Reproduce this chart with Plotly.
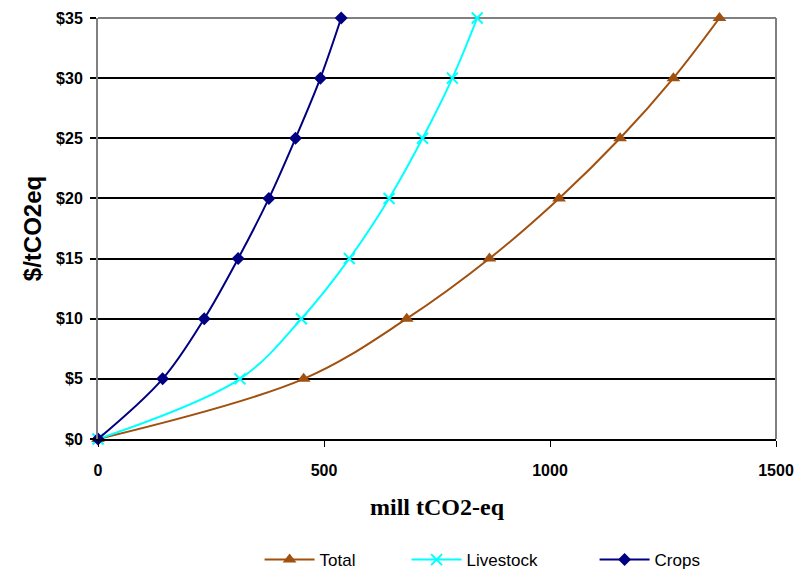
import plotly.graph_objects as go

price = [0, 5, 10, 15, 20, 25, 30, 35]
crops = [0, 143, 235, 310, 378, 437, 492, 538]
livestock = [0, 314, 450, 556, 644, 718, 784, 839]
total = [0, 455, 683, 866, 1020, 1155, 1273, 1375]

x_ticks = [0, 500, 1000, 1500]
y_ticks = [0, 5, 10, 15, 20, 25, 30, 35]
y_labels = ["$0", "$5", "$10", "$15", "$20", "$25", "$30", "$35"]

fig = go.Figure()
fig.add_trace(go.Scatter(x=total, y=price, name="Total", mode="lines+markers",
                         cliponaxis=False, legend="legend",
                         line=dict(color="#A0500F", width=2, shape="spline"),
                         marker=dict(symbol="triangle-up", size=12, color="#A0500F")))
fig.add_trace(go.Scatter(x=livestock, y=price, name="Livestock", mode="lines+markers",
                         cliponaxis=False, legend="legend2",
                         line=dict(color="#00FFFF", width=2, shape="spline"),
                         marker=dict(symbol="x-thin", size=11, color="#00FFFF",
                                     line=dict(color="#00FFFF", width=2))))
fig.add_trace(go.Scatter(x=crops, y=price, name="Crops", mode="lines+markers",
                         cliponaxis=False, legend="legend3",
                         line=dict(color="#000080", width=2, shape="spline"),
                         marker=dict(symbol="diamond", size=10, color="#000080")))

def leg(xp):
    return dict(orientation="h", x=(xp - 98) / 678 - 0.008, xanchor="left",
                yref="container", y=0.026, yanchor="middle",
                font=dict(size=17, family="Liberation Sans, Arial"), itemwidth=50,
                bgcolor="rgba(0,0,0,0)")

fig.update_layout(
    width=805, height=575,
    margin=dict(l=98, r=29, t=18, b=136, autoexpand=False),
    plot_bgcolor="white", paper_bgcolor="white",
    font=dict(family="Liberation Sans, Arial", color="black"),
    showlegend=True,
    legend=leg(265), legend2=leg(412), legend3=leg(600),
    xaxis=dict(range=[0, 1500], tickvals=x_ticks, showgrid=False, zeroline=False,
               showline=True, linecolor="black", linewidth=2,
               tickfont=dict(size=16, family="Liberation Sans, Arial", weight="bold"),
               ticks="outside", ticklen=6, tickwidth=1, tickcolor="black",
               ticklabelstandoff=10,
               title=dict(text="<b>mill tCO2-eq</b>",
                          font=dict(family="Liberation Serif, Times New Roman", size=24),
                          standoff=20)),
    yaxis=dict(range=[0, 35], tickvals=y_ticks, ticktext=y_labels,
               showgrid=True,
               gridcolor="black", gridwidth=2, zeroline=False,
               showline=True, linecolor="#808080", linewidth=2,
               ticks="outside", ticklen=6, tickwidth=2, tickcolor="black",
               tickfont=dict(size=16, family="Liberation Sans, Arial", weight="bold"),
               ticklabelstandoff=4,
               title=dict(text="<b>$/tCO2eq</b>",
                          font=dict(family="Liberation Sans, Arial", size=24),
                          standoff=8)),
    shapes=[
        dict(type="line", xref="paper", yref="paper", x0=0, x1=1, y0=1, y1=1,
             line=dict(color="#808080", width=2), layer="below"),
        dict(type="line", xref="paper", yref="paper", x0=1, x1=1, y0=0, y1=1,
             line=dict(color="#808080", width=2)),
    ],
)

fig.write_html("out.html")
